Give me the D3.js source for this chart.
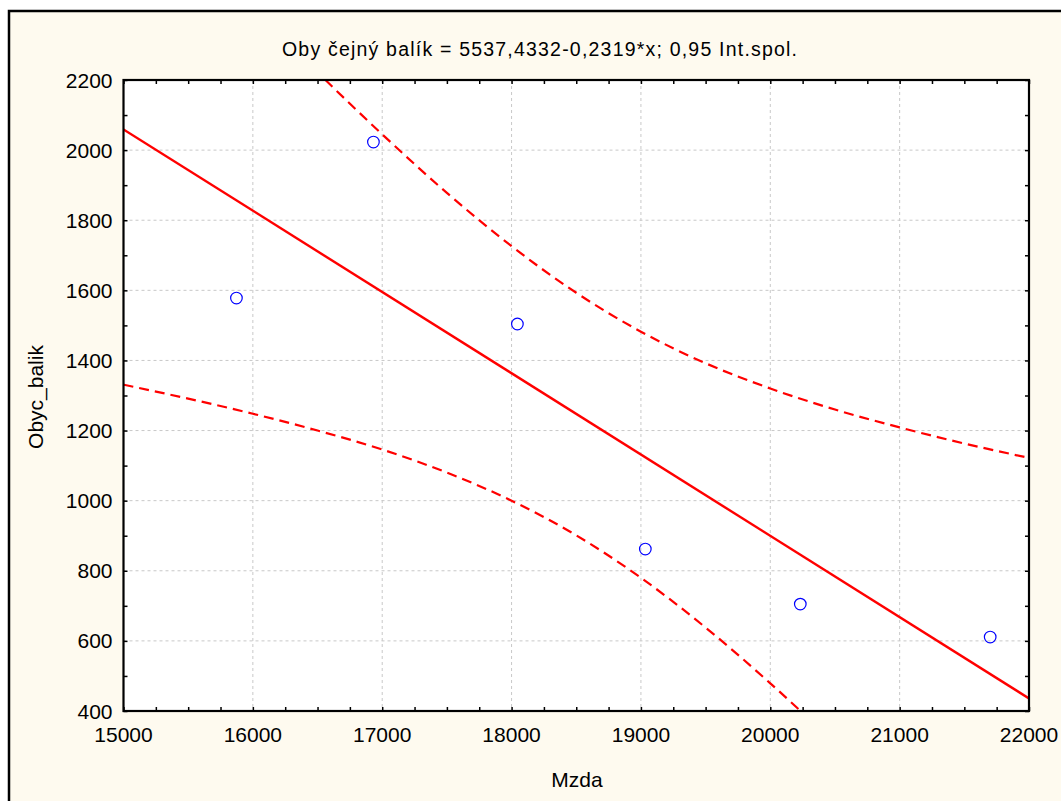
<!DOCTYPE html>
<html><head><meta charset="utf-8">
<script src="https://cdn.jsdelivr.net/npm/d3@7"></script>
<style>body{margin:0;background:#fff;}svg{display:block;font-family:"Liberation Sans",Arial,sans-serif;}</style>
</head><body><svg id="c" width="1061" height="801"></svg>
<script>
const title = "Oby čejný balík = 5537,4332-0,2319*x; 0,95 Int.spol.";
const xLabel = "Mzda", yLabel = "Obyc_balik";
const xTicks = [15000,16000,17000,18000,19000,20000,21000,22000];
const yTicks = [400,600,800,1000,1200,1400,1600,1800,2000,2200];
const pointsX = [15873,16932,18045,19034,20232,21700];
const pointsY = [1578,2023,1504,862,705,611];
const fitX = [15000,22000];
const fitY = [2059,436];
const bandX = [15000,15500,16000,16500,17000,17500,18000,18500,19000,19500,20000,20500,21000,21500,22000];
const upperY = [2787,2595,2406,2222,2045,1878,1726,1593,1482,1392,1320,1260,1209,1163,1122];
const lowerY = [1331,1291,1248,1200,1146,1080,1000,901,780,638,479,307,127,-60,-250];

const svg = d3.select("#c");
svg.append("rect").attr("x",0).attr("y",0).attr("width",1061).attr("height",801).attr("fill","#fff");
svg.append("rect").attr("x",9).attr("y",11).attr("width",1100).attr("height",850)
  .attr("fill","#fefaef").attr("stroke","#000").attr("stroke-width",2.5);

const L=123.5,R=1029,T=80,B=711;
const x=d3.scaleLinear().domain([15000,22000]).range([L,R]);
const y=d3.scaleLinear().domain([400,2200]).range([B,T]);

svg.append("rect").attr("x",L).attr("y",T).attr("width",R-L).attr("height",B-T).attr("fill","#fff");

const grid=svg.append("g").attr("stroke","#c8c8c8").attr("stroke-width",1).attr("stroke-dasharray","3,3");
xTicks.slice(1,-1).forEach(v=>grid.append("line").attr("x1",x(v)).attr("x2",x(v)).attr("y1",T).attr("y2",B));
yTicks.slice(1,-1).forEach(v=>grid.append("line").attr("y1",y(v)).attr("y2",y(v)).attr("x1",L).attr("x2",R));

svg.append("clipPath").attr("id","pc").append("rect").attr("x",L).attr("y",T).attr("width",R-L).attr("height",B-T);
const pg=svg.append("g").attr("clip-path","url(#pc)");

const line=d3.line().x(d=>x(d[0])).y(d=>y(d[1])).curve(d3.curveMonotoneX);
pg.append("path").attr("d",line(bandX.map((v,i)=>[v,upperY[i]]))).attr("fill","none").attr("stroke","#ff0000").attr("stroke-width",2.2).attr("stroke-dasharray","10,6");
pg.append("path").attr("d",line(bandX.map((v,i)=>[v,lowerY[i]]))).attr("fill","none").attr("stroke","#ff0000").attr("stroke-width",2.2).attr("stroke-dasharray","10,6");
pg.append("path").attr("d",d3.line().x(d=>x(d[0])).y(d=>y(d[1]))(fitX.map((v,i)=>[v,fitY[i]]))).attr("fill","none").attr("stroke","#ff0000").attr("stroke-width",2.4);

pg.selectAll("circle").data(pointsX.map((v,i)=>[v,pointsY[i]])).enter().append("circle")
  .attr("cx",d=>x(d[0])).attr("cy",d=>y(d[1])).attr("r",5.8).attr("fill","none").attr("stroke","#0000ff").attr("stroke-width",1.2);

// axes ticks
const ax=svg.append("g");
const minorX=d3.range(15000,22001,250), minorY=d3.range(400,2201,100);
ax.append("g").attr("transform",`translate(0,${B})`).call(d3.axisTop(x).tickValues(minorX).tickSize(4).tickFormat(""));
ax.append("g").attr("transform",`translate(0,${T})`).call(d3.axisBottom(x).tickValues(minorX).tickSize(4).tickFormat(""));
ax.append("g").attr("transform",`translate(${L},0)`).call(d3.axisRight(y).tickValues(minorY).tickSize(4).tickFormat(""));
ax.append("g").attr("transform",`translate(${R},0)`).call(d3.axisLeft(y).tickValues(minorY).tickSize(4).tickFormat(""));
ax.selectAll(".domain").remove();
ax.selectAll("line").attr("stroke","#000").attr("stroke-width",1.5);
svg.append("rect").attr("x",L).attr("y",T).attr("width",R-L).attr("height",B-T).attr("fill","none").attr("stroke","#000").attr("stroke-width",2.2);

// tick labels
const fs=21;
svg.append("g").selectAll("text").data(xTicks).enter().append("text")
  .attr("x",d=>x(d)).attr("y",742).attr("text-anchor","middle").attr("font-size",fs).attr("fill","#000").text(d=>d);
svg.append("g").selectAll("text").data(yTicks).enter().append("text")
  .attr("x",L-11).attr("y",d=>y(d)+7.5).attr("text-anchor","end").attr("font-size",fs).attr("fill","#000").text(d=>d);

svg.append("text").attr("x",539.5).attr("y",56).attr("text-anchor","middle").attr("font-size",19.5)
  .attr("textLength",515).attr("lengthAdjust","spacing").text(title);
svg.append("text").attr("x",577).attr("y",787).attr("text-anchor","middle").attr("font-size",fs).text(xLabel);
svg.append("text").attr("transform","translate(43,397) rotate(-90)").attr("text-anchor","middle").attr("font-size",fs).text(yLabel);
</script></body></html>
